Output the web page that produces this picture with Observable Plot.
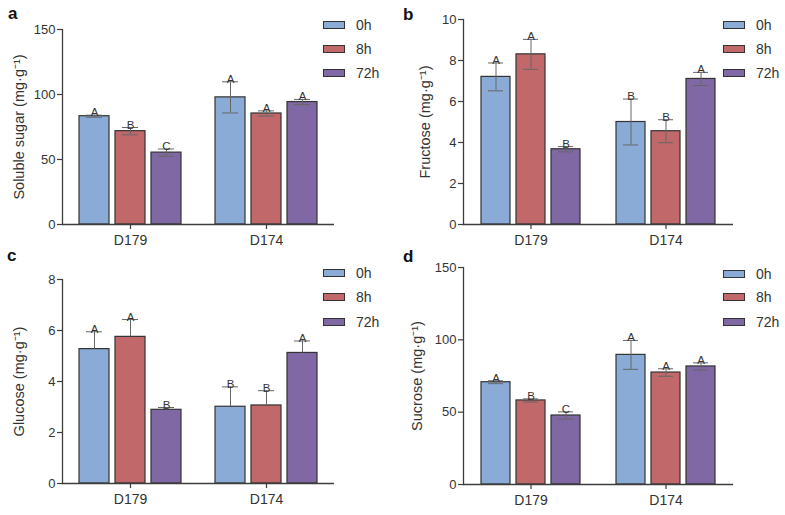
<!DOCTYPE html>
<html>
<head>
<meta charset="utf-8">
<script src="https://cdn.jsdelivr.net/npm/d3@7"></script>
<script src="https://cdn.jsdelivr.net/npm/@observablehq/plot@0.6"></script>
<style>
  html, body { margin: 0; padding: 0; background: #fff; }
  #fig { position: relative; width: 785px; height: 515px; font-family: "Liberation Sans", Arial, sans-serif; color: #333; overflow: hidden; }
  .panel { position: absolute; }
  .tag { position: absolute; font-weight: bold; font-size: 17px; line-height: 17px; color: #111; }
  .leg { position: absolute; font-size: 14px; line-height: 14px; color: #333; }
  .leg .row { position: absolute; left: 0; white-space: nowrap; }
  .leg .sw { position: absolute; left: 0; width: 20px; height: 6px; border: 1px solid #333; }
  .leg .lb { position: absolute; left: 33px; top: -7px; }
</style>
</head>
<body>
<div id="fig"></div>
<script>
// ---- data ----
const groups = ["D179", "D174"];
const times = ["0h", "8h", "72h"];
const colors = ["#8AABD6", "#C0686A", "#8068A4"];

// order: D179 0h, 8h, 72h, D174 0h, 8h, 72h
const solubleMean = [83.3, 71.8, 55.3, 97.8, 85.4, 94.2];
const solubleSd   = [0.8, 2.8, 2.8, 12, 2, 2];
const solubleLetters = ["A", "B", "C", "A", "A", "A"];

const fructoseMean = [7.2, 8.3, 3.67, 5.0, 4.55, 7.1];
const fructoseSd   = [0.68, 0.73, 0.13, 1.12, 0.56, 0.32];
const fructoseLetters = ["A", "A", "B", "B", "B", "A"];

const glucoseMean = [5.27, 5.75, 2.89, 3.01, 3.06, 5.12];
const glucoseSd   = [0.68, 0.68, 0.09, 0.78, 0.58, 0.47];
const glucoseLetters = ["A", "A", "B", "B", "B", "A"];

const sucroseMean = [70.7, 58.1, 47.7, 89.6, 77.4, 81.6];
const sucroseSd   = [1.0, 1.1, 2.5, 10, 2.6, 2.5];
const sucroseLetters = ["A", "B", "C", "A", "A", "A"];

const ticks150 = [0, 50, 100, 150];
const ticks10 = [0, 2, 4, 6, 8, 10];
const ticks8 = [0, 2, 4, 6, 8];

function rows(means, sds, letters) {
  const out = [];
  groups.forEach((g, gi) => times.forEach((t, ti) => {
    const i = gi * times.length + ti;
    out.push({group: g, time: t, mean: means[i], sd: sds[i], letter: letters[i]});
  }));
  return out;
}

const fig = document.getElementById("fig");
const AX = "#3d3d3d";

function panel(cfg) {
  const data = rows(cfg.means, cfg.sds, cfg.letters);
  const lo = cfg.upperOnly ? (d => d.mean) : (d => d.mean - d.sd);
  const marks = [
    Plot.axisY({ticks: cfg.yTicks, tickSize: 5, tickPadding: 2, stroke: AX, strokeWidth: 1.2, fill: "#333", fontSize: 13, label: null}),
    Plot.text([cfg.label], {frameAnchor: "left", rotate: -90, dx: -cfg.labelDx, fontSize: 14.5, fill: "#333",
      textAnchor: "middle", lineAnchor: "middle", facetAnchor: "left"}),
    Plot.axisFx({anchor: "bottom", tickSize: 5, tickPadding: 6, label: null, stroke: AX, strokeWidth: 1.2, fill: "#333", fontSize: 14}),
    Plot.barY(data, {fx: "group", x: "time", y: "mean", fill: "time", stroke: "#333", strokeWidth: 1.2}),
    Plot.ruleX(data, {fx: "group", x: "time", y1: lo, y2: d => d.mean + d.sd, stroke: "#666", strokeWidth: 1}),
    Plot.tickY(data, {fx: "group", x: "time", y: d => d.mean + d.sd, insetLeft: 7, insetRight: 7, stroke: "#666", strokeWidth: 1})
  ];
  if (!cfg.upperOnly) {
    marks.push(Plot.tickY(data, {fx: "group", x: "time", y: d => d.mean - d.sd, insetLeft: 7, insetRight: 7, stroke: "#666", strokeWidth: 1}));
  }
  marks.push(
    Plot.text(data, {fx: "group", x: "time", y: d => d.mean + d.sd, text: "letter", lineAnchor: "bottom", dy: 1, fontSize: 11.5, fill: "#333"}),
    Plot.ruleY([0], {stroke: AX, strokeWidth: 1.3}),
    Plot.frame({anchor: "left", facetAnchor: "left", stroke: AX, strokeWidth: 1.3})
  );
  const chart = Plot.plot({
    width: cfg.width, height: cfg.height,
    marginLeft: cfg.ml, marginRight: cfg.mr, marginTop: cfg.mt, marginBottom: cfg.mb,
    style: {fontFamily: "Liberation Sans, Arial, sans-serif", fontSize: "13px", color: "#333", background: "transparent"},
    fx: {domain: groups, paddingInner: 0, paddingOuter: 0, label: null},
    x: {domain: times, paddingInner: 0.1667, paddingOuter: 0.472, axis: null},
    y: {domain: cfg.yDomain},
    color: {domain: times, range: colors},
    marks
  });
  const wrap = document.createElement("div");
  wrap.className = "panel";
  wrap.style.left = cfg.left + "px";
  wrap.style.top = cfg.top + "px";
  wrap.appendChild(chart);
  fig.appendChild(wrap);

  const tag = document.createElement("div");
  tag.className = "tag";
  tag.textContent = cfg.tag;
  tag.style.left = cfg.tagX + "px";
  tag.style.top = (cfg.tagBase - 14) + "px";
  fig.appendChild(tag);

  const leg = document.createElement("div");
  leg.className = "leg";
  leg.style.left = cfg.legX + "px";
  leg.style.top = "0px";
  times.forEach((t, i) => {
    const r = document.createElement("div");
    r.className = "row";
    r.style.top = cfg.legY[i] + "px";
    const sw = document.createElement("div");
    sw.className = "sw";
    sw.style.background = colors[i];
    sw.style.top = "-4px";
    const lb = document.createElement("div");
    lb.className = "lb";
    lb.textContent = t;
    r.appendChild(sw); r.appendChild(lb);
    leg.appendChild(r);
  });
  fig.appendChild(leg);
}

panel({left: 0, top: 0, width: 390, height: 250, ml: 62, mr: 56, mt: 29, mb: 26,
  yDomain: [0, 150], yTicks: ticks150, label: "Soluble sugar (mg·g⁻¹)", labelDx: 43.5,
  means: solubleMean, sds: solubleSd, letters: solubleLetters,
  tag: "a", tagX: 8, tagBase: 19, legX: 323, legY: [25, 49, 73]});

panel({left: 390, top: 0, width: 395, height: 250, ml: 72, mr: 52, mt: 19, mb: 26,
  yDomain: [0, 10], yTicks: ticks10, label: "Fructose (mg·g⁻¹)", labelDx: 38,
  means: fructoseMean, sds: fructoseSd, letters: fructoseLetters,
  tag: "b", tagX: 403, tagBase: 20, legX: 723, legY: [25, 49, 73]});

panel({left: 0, top: 250, width: 390, height: 265, ml: 62, mr: 56, mt: 29, mb: 32,
  yDomain: [0, 8], yTicks: ticks8, label: "Glucose (mg·g⁻¹)", labelDx: 43.5, upperOnly: true,
  means: glucoseMean, sds: glucoseSd, letters: glucoseLetters,
  tag: "c", tagX: 7, tagBase: 261, legX: 323, legY: [273, 297, 322]});

panel({left: 390, top: 250, width: 395, height: 265, ml: 72, mr: 52, mt: 17, mb: 31,
  yDomain: [0, 150], yTicks: ticks150, label: "Sucrose (mg·g⁻¹)", labelDx: 46,
  means: sucroseMean, sds: sucroseSd, letters: sucroseLetters,
  tag: "d", tagX: 403, tagBase: 262, legX: 723, legY: [274, 297, 322]});
</script>
</body>
</html>
